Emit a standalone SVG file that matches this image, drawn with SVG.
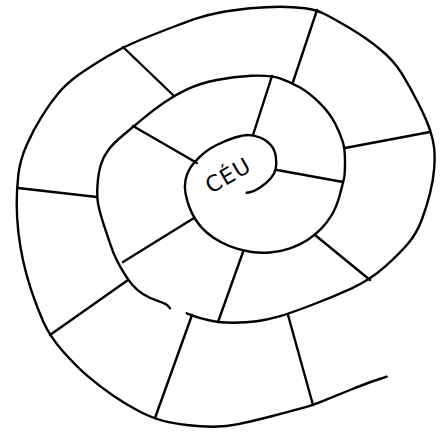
<svg xmlns="http://www.w3.org/2000/svg" width="443" height="435" viewBox="0 0 443 435">
<style>
.ln{fill:none;stroke:#000;stroke-width:2.4;stroke-linecap:round;stroke-linejoin:round}
.lbl{font-family:"DejaVu Sans","Liberation Sans",sans-serif;font-size:22px;letter-spacing:1px;fill:#000}
</style>
<rect width="443" height="435" fill="#fff"/>
<g id="spiral">
<path id="outer-line" class="ln" d="M 386.7,376.7 L 376.7,380 Q 366.7,383.3 350,390 Q 333.3,396.7 323.3,400.8 Q 313.3,405 298.3,409.2 Q 283.3,413.3 266.7,417.5 Q 250,421.7 238.3,424.2 Q 226.7,426.7 213.3,426.7 Q 200,426.7 186.7,425 Q 173.3,423.3 163.3,420.8 Q 153.3,418.3 140,411.7 Q 126.7,405 113.3,395.8 Q 100,386.7 88.3,376.7 Q 76.7,366.7 63.3,351.7 Q 50,336.7 43.3,321.7 Q 36.7,306.7 31.7,291.7 Q 26.7,276.7 23.3,261.7 Q 20,246.7 18.3,231.7 Q 16.7,216.7 16.7,203.3 Q 16.7,190 18.3,175 Q 20,160 26.7,145 Q 33.3,130 41.7,116.7 Q 50,103.3 58.3,93.3 Q 66.7,83.3 78.3,75 Q 90,66.7 106.7,56.7 Q 123.3,46.7 140,40 Q 156.7,33.3 171.7,27.5 Q 186.7,21.7 196.7,18.3 Q 206.7,15 220,12.5 Q 233.3,10 250,8.3 Q 266.7,6.7 280,6.7 Q 293.3,6.7 305,8.3 Q 316.7,10 325,14.2 Q 333.3,18.3 350,28.3 Q 366.7,38.3 380,49.2 Q 393.3,60 401.7,73.3 Q 410,86.7 418.3,103.3 Q 426.7,120 430,130 Q 433.3,140 434.2,148.3 Q 435,156.7 434.2,168.3 Q 433.3,180 430,193.3 Q 426.7,206.7 421.7,220 Q 416.7,233.3 408.3,243.3 Q 400,253.3 385,266.7 Q 370,280 351.7,288.3 Q 333.3,296.7 311.7,305 Q 290,313.3 278.3,316.7 Q 266.7,320 256.7,321.3 Q 246.7,322.7 233.3,322.7 Q 220,322.7 210,320.5 Q 200,318.3 193.3,315.8 L 186.7,313.3"/>
<path id="inner-line" class="ln" d="M 170,308.3 L 168.3,306.2 Q 166.7,304 158.3,301.2 Q 150,298.3 143.3,294.2 Q 136.7,290 132.5,285 Q 128.3,280 124.2,273.3 Q 120,266.7 116.7,260 Q 113.3,253.3 110,243.3 Q 106.7,233.3 103.3,223.3 Q 100,213.3 98.3,205 Q 96.7,196.7 97.5,185 Q 98.3,173.3 100.8,165 Q 103.3,156.7 108.3,150 Q 113.3,143.3 123.3,135 Q 133.3,126.7 143.3,118.3 Q 153.3,110 164.2,102.5 Q 175,95 187.5,89.2 Q 200,83.3 216.7,80 Q 233.3,76.7 251.7,75.8 Q 270,75 280,78.3 Q 290,81.7 300,87.5 Q 310,93.3 320,103.3 Q 330,113.3 335,123.3 Q 340,133.3 342.5,140.8 Q 345,148.3 345,160.8 Q 345,173.3 344.2,177.5 Q 343.3,181.7 340,194.2 Q 336.7,206.7 331.7,215 Q 326.7,223.3 320.8,229.2 Q 315,235 307.5,240 Q 300,245 290,248.3 Q 280,251.7 270,252.5 Q 260,253.3 251.7,252 Q 243.3,250.7 236.7,248.7 Q 230,246.7 221.7,242.5 Q 213.3,238.3 206.7,232.5 Q 200,226.7 195.8,220 Q 191.7,213.3 189.2,206.7 Q 186.7,200 185.5,193.3 Q 184.3,186.7 185.5,180 Q 186.7,173.3 190,168.3 Q 193.3,163.3 200,156.7 Q 206.7,150 216.7,145 Q 226.7,140 235,137.5 Q 243.3,135 248.3,135 Q 253.3,135 260,137.5 Q 266.7,140 270.8,145 Q 275,150 275.8,156.7 Q 276.7,163.3 275.8,168.3 Q 275,173.3 270.8,178.3 Q 266.7,183.3 260,187.5 Q 253.3,191.7 250,192.2 L 246.7,192.7"/>
</g>
<g id="dividers">
<path class="ln" d="M 123,47 L 173,95"/>
<path class="ln" d="M 317,10 L 293,82"/>
<path class="ln" d="M 430,132 L 345,148"/>
<path class="ln" d="M 370,280 L 315,235"/>
<path class="ln" d="M 288,315 L 313,405"/>
<path class="ln" d="M 192,315 L 155,418"/>
<path class="ln" d="M 128,280 L 50,335"/>
<path class="ln" d="M 18,188 L 97,197"/>
<path class="ln" d="M 133,126 L 197,163"/>
<path class="ln" d="M 272,76 L 253,135"/>
<path class="ln" d="M 277,170 L 343,182"/>
<path class="ln" d="M 243,252 L 218,322"/>
<path class="ln" d="M 194,218 L 123,262"/>
</g>
<g id="ceu">
<text class="lbl" transform="translate(232,182) rotate(-30)" text-anchor="middle">CÉU</text>
</g>
</svg>
